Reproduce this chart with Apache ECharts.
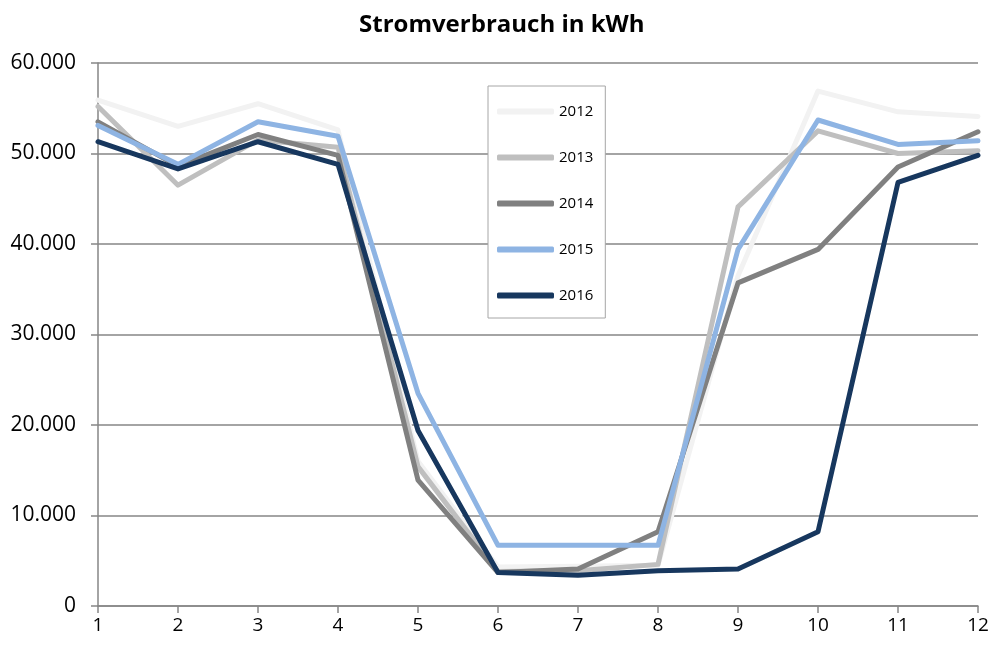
<!DOCTYPE html>
<html><head><meta charset="utf-8">
<script src="https://cdn.jsdelivr.net/npm/echarts@6/dist/echarts.min.js"></script>
<style>html,body{margin:0;padding:0;background:#fff}#c{width:994px;height:648px}</style>
</head><body><div id="c"></div>
<script>
const months = ['1','2','3','4','5','6','7','8','9','10','11','12'];
const years = ['2012','2013','2014','2015','2016'];
const s2012 = [55900,53000,55500,52600,16000,4300,4400,4500,36500,56900,54600,54100];
const s2013 = [55200,46500,51500,50700,15400,3800,3900,4600,44100,52500,50000,50300];
const s2014 = [53500,48600,52100,49800,13900,3700,4100,8200,35700,39400,48500,52400];
const s2015 = [53100,48800,53500,51900,23500,6700,6700,6700,39400,53700,51000,51400];
const s2016 = [51300,48300,51300,48800,19400,3700,3400,3900,4100,8200,46800,49800];
const seriesData = [s2012,s2013,s2014,s2015,s2016];
const colors = ['#f2f2f2','#bfbfbf','#808080','#8eb4e3','#17375e'];
const FONT = '"Open Sans", sans-serif';
const chart = echarts.init(document.getElementById('c'));
chart.setOption({
  animation:false,
  color: colors,
  title:{text:'Stromverbrauch in kWh', left:354, top:8,
    textStyle:{fontFamily:FONT, fontWeight:'bold', fontSize:24, color:'#000'}},
  grid:{left:98, right:16, top:63, bottom:42, containLabel:false},
  legend:{orient:'vertical', left:488, top:86,
    backgroundColor:'#fff', borderColor:'#a6a6a6', borderWidth:1,
    padding:[18,12,15,9], itemGap:31, itemWidth:57, itemHeight:6, icon:'roundRect',
    textStyle:{fontFamily:FONT, fontSize:15, color:'#000'},
    data: years},
  xAxis:{type:'category', data:months, boundaryGap:false,
    axisLine:{lineStyle:{color:'#868686', width:1.5}},
    axisTick:{show:true, length:7, lineStyle:{color:'#868686', width:1.5}, alignWithLabel:true},
    axisLabel:{fontFamily:FONT, fontSize:19, color:'#000', margin:10}},
  yAxis:{type:'value', min:0, max:60000, interval:10000,
    axisLine:{show:true, lineStyle:{color:'#868686', width:1.5}},
    axisTick:{show:true, length:7, lineStyle:{color:'#868686', width:1.5}},
    splitLine:{lineStyle:{color:'#868686', width:1.5}},
    axisLabel:{fontFamily:FONT, fontSize:21, color:'#000', margin:22,
      formatter: v => v === 0 ? '0' : (v/1000).toFixed(0) + '.000'}},
  series: years.map((y,i)=>({name:y, type:'line', data:seriesData[i], symbol:'none',
    lineStyle:{width:5, color:colors[i], cap:'round', join:'round'}, itemStyle:{color:colors[i]}, z: 2+i}))
});
</script></body></html>
